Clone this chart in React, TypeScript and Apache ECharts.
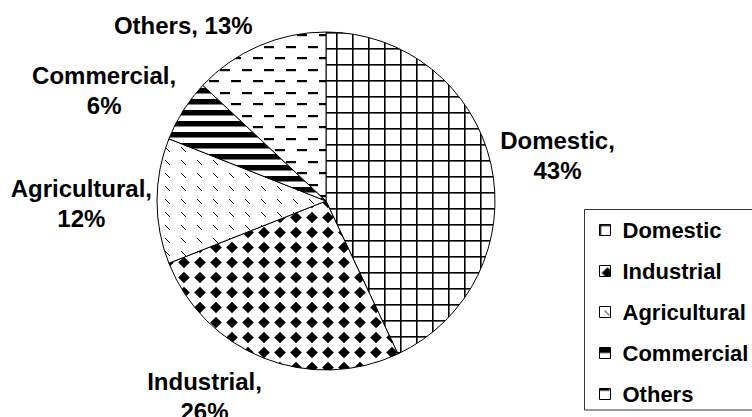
import React, { useEffect, useRef } from 'react';
import * as echarts from 'echarts';

const categories = ['Domestic', 'Industrial', 'Agricultural', 'Commercial', 'Others'];
const shares = [43, 26, 12, 6, 13];
const singleLineLabels = ['Others'];

// small label nudges (px) applied after ECharts' own outside-label layout
const labelNudgeX = [-7.5, 7.5, 12, 8, 3.5];
const labelNudgeY = [-6, 27.5, 2, -14, -9.5];

const FONT = '"Liberation Sans", Arial, Helvetica, sans-serif';

function makeTile(w: number, h: number, paint: (ctx: CanvasRenderingContext2D) => void) {
  const c = document.createElement('canvas');
  c.width = w;
  c.height = h;
  const ctx = c.getContext('2d') as CanvasRenderingContext2D;
  ctx.fillStyle = '#ffffff';
  ctx.fillRect(0, 0, w, h);
  ctx.fillStyle = '#000000';
  paint(ctx);
  return { image: c.toDataURL(), repeat: 'repeat', imageWidth: w, imageHeight: h } as any;
}

function buildPatterns() {
  const grid = makeTile(16, 16, (ctx) => {
    ctx.fillRect(0, 0, 16, 1.6);
    ctx.fillRect(0, 0, 1.6, 16);
  });
  const diamonds = makeTile(16, 15, (ctx) => {
    ctx.beginPath();
    ctx.moveTo(8, 1.8);
    ctx.lineTo(13.8, 7.5);
    ctx.lineTo(8, 13.2);
    ctx.lineTo(2.2, 7.5);
    ctx.closePath();
    ctx.fill();
  });
  const dashesDiag = makeTile(16, 13, (ctx) => {
    for (let i = 0; i < 5; i++) ctx.fillRect(5 + i, 4 + i, 1, 1);
  });
  const stripes = makeTile(4, 11, (ctx) => {
    ctx.fillRect(0, 0, 4, 5.5);
  });
  const dashesH = makeTile(22, 23, (ctx) => {
    ctx.fillRect(0, 0, 10, 2.2);
    ctx.fillRect(11, 11, 10, 2.2);
  });
  return [grid, diamonds, dashesDiag, stripes, dashesH];
}

export default function App() {
  const ref = useRef<HTMLDivElement>(null);

  useEffect(() => {
    if (!ref.current) return;
    const chart = echarts.init(ref.current, null, { renderer: 'svg' });
    const patterns = buildPatterns();
    const data = categories.map((name, i) => ({
      name,
      value: shares[i],
      itemStyle: { color: patterns[i] },
    }));

    chart.setOption({
      animation: false,
      backgroundColor: '#ffffff',
      graphic: [
        {
          type: 'rect',
          z: -1,
          shape: { x: 584.5, y: 209.5, width: 200, height: 200.5 },
          style: { fill: '#ffffff', stroke: '#333333', lineWidth: 1 },
        },
      ],
      legend: {
        orient: 'vertical',
        left: 594,
        top: 214,
        itemWidth: 11,
        itemHeight: 11,
        itemGap: 19,
        icon: 'rect',
        selectedMode: false,
        itemStyle: { borderColor: '#000', borderWidth: 1 },
        textStyle: {
          fontFamily: FONT,
          fontSize: 22,
          fontWeight: 'bold',
          color: '#000',
          lineHeight: 21,
          padding: [0, 0, 0, 7],
        },
        data: categories,
      },
      series: [
        {
          type: 'pie',
          center: [326, 201],
          radius: 169,
          startAngle: 90,
          clockwise: true,
          avoidLabelOverlap: false,
          emphasis: { disabled: true },
          itemStyle: { borderColor: '#000', borderWidth: 1 },
          label: {
            show: true,
            position: 'outside',
            fontFamily: FONT,
            fontSize: 24,
            fontWeight: 'bold',
            color: '#000',
            lineHeight: 30,
            formatter: (p: any) =>
              singleLineLabels.includes(p.name)
                ? `${p.name}, ${Math.round(p.percent)}%`
                : `${p.name},\n${Math.round(p.percent)}%`,
          },
          labelLine: { show: false, length: 12, length2: 0 },
          labelLayout: (p: any) => ({
            x: p.labelRect.x + p.labelRect.width / 2 + labelNudgeX[p.dataIndex],
            y: p.labelRect.y + p.labelRect.height / 2 + labelNudgeY[p.dataIndex],
            align: 'center',
            verticalAlign: 'middle',
          }),
          data,
        },
      ],
    });
    return () => chart.dispose();
  }, []);

  return (
    <div
      ref={ref}
      style={{ position: 'fixed', left: 0, top: 0, width: 752, height: 417, background: '#fff' }}
    />
  );
}
